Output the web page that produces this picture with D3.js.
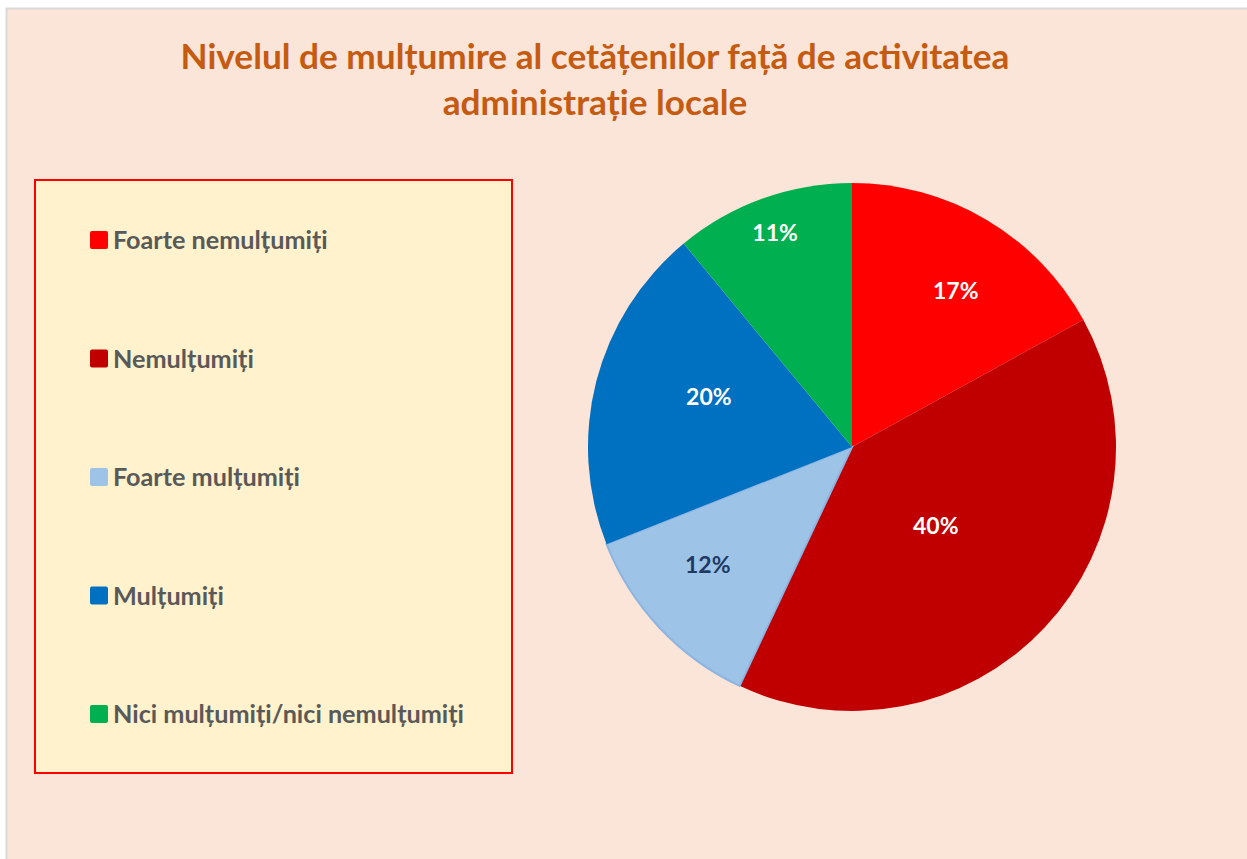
<!DOCTYPE html>
<html>
<head>
<meta charset="utf-8">
<script src="https://cdn.jsdelivr.net/npm/d3@7"></script>
<style>
  body { margin: 0; background: #fff; }
  svg { display: block; }
</style>
</head>
<body>
<div id="chart"></div>
<script>
// data
var categories = ['Foarte nemulțumiți', 'Nemulțumiți', 'Foarte mulțumiți', 'Mulțumiți', 'Nici mulțumiți/nici nemulțumiți'];
var values = [17, 40, 12, 20, 11];
var colors = ['#FF0000', '#C00000', '#9DC3E6', '#0070C0', '#00B050'];
var labelColors = ['#FFFFFF', '#FFFFFF', '#1F3864', '#FFFFFF', '#FFFFFF'];
// where Excel's "best fit" put each label: share of the radius, and a turn off the mid angle (degrees)
var labelRadius = [0.71, 0.435, 0.705, 0.575, 0.86];
var labelTurn = [3, 0, 4, 5, 0];
var titleLines = ['Nivelul de mulțumire al cetățenilor față de activitatea', 'administrație locale'];

var width = 1247;
var height = 859;
var font = 'Lato, "Open Sans", sans-serif';

var svg = d3.select('#chart')
  .append('svg')
  .attr('width', width)
  .attr('height', height);

// chart area
svg.append('rect')
  .attr('x', 6.5)
  .attr('y', 8.5)
  .attr('width', width)
  .attr('height', height)
  .attr('fill', '#FAE5D8')
  .attr('stroke', '#D9D9D9')
  .attr('stroke-width', 2);

// title
svg.append('g')
  .selectAll('text')
  .data(titleLines)
  .join('text')
  .attr('x', 595)
  .attr('y', (d, i) => 69 + i * 46)
  .attr('text-anchor', 'middle')
  .attr('font-family', font)
  .attr('font-weight', 700)
  .attr('font-size', 35.2)
  .attr('fill', '#C55A11')
  .text((d) => d);

// legend
var legend = svg.append('g');

legend.append('rect')
  .attr('x', 35)
  .attr('y', 180)
  .attr('width', 477)
  .attr('height', 593)
  .attr('fill', '#FFF2CC')
  .attr('stroke', '#FF0000')
  .attr('stroke-width', 2);

var legendY = d3.scalePoint()
  .domain(categories)
  .range([240, 714]);

var items = legend.selectAll('g.item')
  .data(categories)
  .join('g')
  .attr('class', 'item')
  .attr('transform', (d) => `translate(90, ${legendY(d)})`);

items.append('rect')
  .attr('x', 0)
  .attr('y', -9)
  .attr('width', 18)
  .attr('height', 18)
  .attr('rx', 2)
  .attr('fill', (d, i) => colors[i]);

items.append('text')
  .attr('x', 23)
  .attr('y', 9)
  .attr('font-family', font)
  .attr('font-weight', 700)
  .attr('font-size', 25.2)
  .attr('fill', '#595959')
  .text((d) => d);

// pie
var cx = 852;
var cy = 447;
var radius = 264;

var pie = d3.pie().sort(null).value((d) => d);
var arcs = pie(values);
var arc = d3.arc().innerRadius(0).outerRadius(radius);

var pieG = svg.append('g')
  .attr('transform', `translate(${cx}, ${cy})`);

pieG.selectAll('path')
  .data(arcs)
  .join('path')
  .attr('d', arc)
  .attr('fill', (d, i) => colors[i])
  .attr('stroke', (d, i) => i === 2 ? '#8DB4E2' : 'none')
  .attr('stroke-width', 2);

pieG.selectAll('text')
  .data(arcs)
  .join('text')
  .attr('transform', (d, i) => {
    var r = radius * labelRadius[i];
    var a = (d.startAngle + d.endAngle) / 2 + labelTurn[i] * Math.PI / 180;
    return `translate(${Math.sin(a) * r}, ${-Math.cos(a) * r})`;
  })
  .attr('text-anchor', 'middle')
  .attr('dy', '0.35em')
  .attr('font-family', font)
  .attr('font-weight', 700)
  .attr('font-size', 23)
  .attr('fill', (d, i) => labelColors[i])
  .text((d) => d.data + '%');
</script>
</body>
</html>
